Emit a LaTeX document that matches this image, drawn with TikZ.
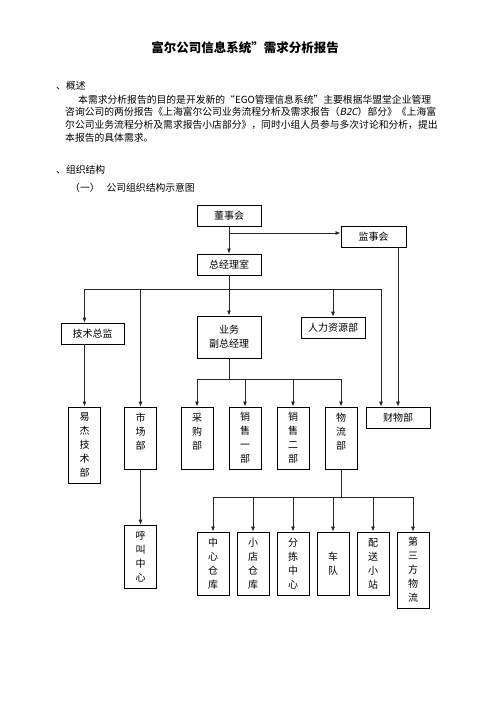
\documentclass[tikz,border=0pt]{standalone}
\usepackage{fontspec}
\setmainfont{Noto Sans CJK SC}
\newfontfamily\slantfont[FakeSlant=0.2]{Noto Sans CJK SC}
\usetikzlibrary{arrows.meta}

\begin{document}
\begin{tikzpicture}[x=1pt, y=-1pt,
  >={Latex[length=5pt,width=4pt]},
  box/.style={draw, line width=0.55pt, inner sep=0pt, minimum height=21pt,
    align=center, font=\fontsize{10}{14}\selectfont},
  boldbox/.style={box, line width=0.95pt},
  tall/.style={minimum width=32pt},
  link/.style={line width=0.8pt, draw=black!85},
  txt/.style={anchor=base west, inner sep=0pt, font=\fontsize{9.8}{13}\selectfont}]
\useasboundingbox (0,0) rectangle (500,707);

% heading and text
\node[font=\fontsize{12.5}{15}\selectfont\bfseries] (title) at (245,48) {富尔公司信息系统”需求分析报告};
\node[txt] (sec1) at (56,89) {、概述};
\node[txt] (line1) at (78,103) {本需求分析报告的目的是开发新的“EGO管理信息系统”主要根据华盟堂企业管理};
\node[txt] (line2) at (65,115.7) {咨询公司的两份报告《上海富尔公司业务流程分析及需求报告（{\slantfont B2C}）部分》《上海富};
\node[txt] (line3) at (65,128.4) {尔公司业务流程分析及需求报告小店部分》，同时小组人员参与多次讨论和分析，提出};
\node[txt] (line4) at (65,141.1) {本报告的具体需求。};
\node[txt] (sec2) at (56,173) {、组织结构};
\node[txt] (sub) at (70,191) {（一）\hspace{7pt}公司组织结构示意图};

% top level
\node[boldbox, minimum width=64pt] (board) at (229,215.5) {董事会};
\node[boldbox, minimum width=65pt] (super) at (373.5,236.5) {监事会};
\node[box, line width=0.8pt, minimum width=64pt] (gm) at (229,264.5) {总经理室};

% second level
\node[box, minimum width=63pt] (tech) at (92.5,333.5) {技术总监};
\node[boldbox, minimum width=64pt, minimum height=42pt] (vp) at (229,337) {业务\\副总经理};
\node[box, minimum width=64pt] (hr) at (333,327.5) {人力资源部};
\node[box, minimum width=64pt] (fin) at (398,417.5) {财物部};

% departments
\node[boldbox, tall, minimum height=76pt] (yijie) at (84.5,445) {易\\杰\\技\\术\\部};
\node[box, tall, minimum height=62pt] (market) at (140.5,438) {市\\场\\部\\~};
\node[boldbox, tall, minimum height=62pt] (purchase) at (197,438) {采\\购\\部\\~};
\node[boldbox, tall, minimum height=62pt] (sales1) at (245,438) {销\\售\\一\\部};
\node[boldbox, tall, minimum height=62pt] (sales2) at (293,438) {销\\售\\二\\部};
\node[boldbox, tall, minimum height=62pt] (logistics) at (341,438) {物\\流\\部\\~};
\node[box, tall, minimum height=63pt] (call) at (140.5,556.5) {呼\\叫\\中\\心};

% logistics units
\node[boldbox, tall, minimum height=63pt] (central) at (213,563.5) {中\\心\\仓\\库};
\node[box, tall, minimum height=63pt] (shop) at (253,563.5) {小\\店\\仓\\库};
\node[boldbox, tall, minimum height=63pt] (sort) at (293,563.5) {分\\拣\\中\\心};
\node[box, tall, minimum height=63pt] (fleet) at (333,563.5) {车\\队};
\node[boldbox, tall, minimum height=63pt] (station) at (373,563.5) {配\\送\\小\\站};
\node[box, tall, minimum height=76pt] (third) at (413,570) {第\\三\\方\\物\\流};

% connectors
\coordinate (split) at (229,233);
\coordinate (bus) at (229,289);
\coordinate (bus2) at (229,379);
\coordinate (bus3) at (341,497);
\coordinate (finleft) at ([xshift=-17pt]fin.north);

\draw[link,->] (board) -- (gm);
\draw[link,->] (split) -- (split -| super.west);
\draw[link,->] (super.south -| fin.north) -- (fin.north);
\draw[link] (gm) -- (bus);
\draw[link] (bus -| yijie) -- (bus -| finleft);
\draw[link,->] (bus -| yijie) -- (yijie |- tech.north);
\draw[link,->] (yijie |- tech.south) -- (yijie.north);
\draw[link,->] (bus -| market) -- (market.north);
\draw[link,->] (bus) -- (vp.north);
\draw[link,->] (bus -| hr) -- (hr.north);
\draw[link,->] (bus -| finleft) -- (finleft);
\draw[link,->] (market.south) -- (call.north);

\draw[link] (vp) -- (bus2);
\draw[link] (bus2 -| purchase) -- (bus2 -| logistics);
\foreach \d in {purchase, sales1, sales2, logistics}
  \draw[link,->] (bus2 -| \d) -- (\d.north);

\draw[link] (logistics) -- (bus3);
\draw[link] (bus3 -| central) -- (bus3 -| third);
\foreach \d in {central, shop, sort, fleet, station, third}
  \draw[link,->] (bus3 -| \d) -- (\d.north);
\end{tikzpicture}
\end{document}
